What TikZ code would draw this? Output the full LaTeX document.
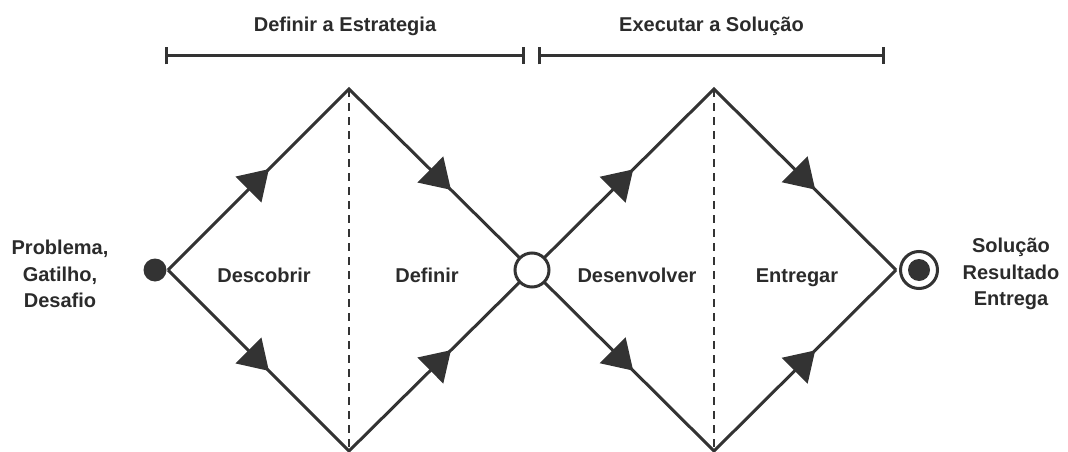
\documentclass[tikz,border=0pt]{standalone}
\usepackage{fontspec}
\setmainfont{Liberation Sans}
\usetikzlibrary{arrows.meta,decorations.markings}
\definecolor{inkgray}{HTML}{333333}
\definecolor{textgray}{HTML}{2B2B2B}

\begin{document}
\begin{tikzpicture}[x=1pt,y=-1pt,
		flow/.style={draw=inkgray, line width=3pt, postaction={decorate},
			decoration={markings,
				mark=at position 0.278 with {\arrow{Triangle[length=29pt,width=36pt]}},
				mark=at position 0.778 with {\arrow{Triangle[length=29pt,width=36pt]}}}},
		divider/.style={draw=inkgray, line width=1.5pt, dash pattern=on 8pt off 6pt},
		span/.style={draw=inkgray, line width=3pt, {Bar[width=17pt]}-{Bar[width=17pt]}},
		stagehead/.style={font=\bfseries\fontsize{20}{24}\selectfont, text=textgray, inner sep=0pt},
		phase/.style={font=\bfseries\fontsize{20}{24}\selectfont, text=textgray, inner sep=0pt, anchor=base},
		sidetext/.style={font=\bfseries\fontsize{20}{26.5}\selectfont, text=textgray, inner sep=0pt, align=center},
		dot/.style={circle, fill=inkgray, inner sep=0pt, minimum size=23pt},
		hub/.style={circle, draw=inkgray, fill=white, line width=3pt, inner sep=0pt, minimum size=34pt}]
		\useasboundingbox (0,0) rectangle (1068,452);
		\coordinate (s) at (155,270);
		\coordinate (l1) at (168,270);
		\coordinate (t1) at (349,89);
		\coordinate (b1) at (349,451);
		\coordinate (m) at (532,270);
		\coordinate (t2) at (714,89);
		\coordinate (b2) at (714,451);
		\coordinate (r2) at (896,270);
		\coordinate (e) at (919,270);
		\draw[divider] (t1) -- (b1);
		\draw[divider] (t2) -- (b2);
		\draw[flow] (l1) -- (t1) -- (m);
		\draw[flow] (l1) -- (b1) -- (m);
		\draw[flow] (m) -- (t2) -- (r2);
		\draw[flow] (m) -- (b2) -- (r2);
		\coordinate (sa) at (165,56);
		\coordinate (sb) at (525,56);
		\coordinate (sc) at (538,56);
		\coordinate (sd) at (885,56);
		\draw[span] (sa) -- (sb) node[midway, stagehead, anchor=base, yshift=24pt] (strat) {Definir a Estrategia};
		\draw[span] (sc) -- (sd) node[midway, stagehead, anchor=base, yshift=24pt] (exec) {Executar a Solução};
		\node[dot] (start) at (s) {};
		\node[hub] (mid) at (m) {};
		\node[hub, minimum size=37pt] (goal) at (e) {};
		\node[dot, minimum size=22pt] (goalcore) at (e) {};
		\node[phase] (discover) at (264,282) {Descobrir};
		\node[phase] (define) at (427,282) {Definir};
		\node[phase] (develop) at (637,282) {Desenvolver};
		\node[phase] (deliver) at (797,282) {Entregar};
		\node[sidetext] (problem) at (60,274) {Problema,\\Gatilho,\\Desafio};
		\node[sidetext] (result) at (1011,274) {Solução\\Resultado\\Entrega};
	\end{tikzpicture}
\end{document}
